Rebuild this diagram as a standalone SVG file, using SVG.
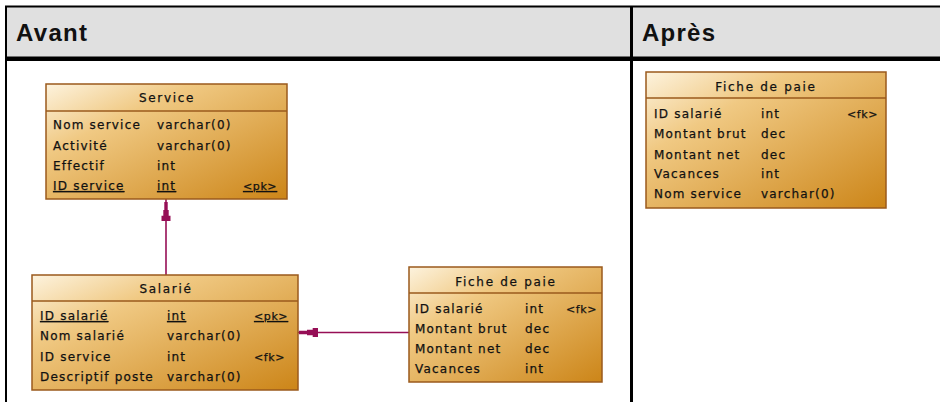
<svg xmlns="http://www.w3.org/2000/svg" width="940" height="402" viewBox="0 0 940 402">
<style>
.hdr{font-family:"Liberation Sans",Arial,sans-serif;font-weight:bold;font-size:24px;fill:#111}
.tb{fill:url(#g);stroke:#9a5a1c;stroke-width:1.5}
.sep{stroke:#9a5a1c;stroke-width:1.5}
.t{font-family:"DejaVu Sans",Verdana,sans-serif;font-size:12px;letter-spacing:1.2px;fill:#111;stroke:#111;stroke-width:0.25px}
.ti{font-family:"DejaVu Sans",Verdana,sans-serif;font-size:12px;letter-spacing:1.7px;fill:#111;stroke:#111;stroke-width:0.25px;text-anchor:middle}
.k{font-size:11px;letter-spacing:0.6px}
.u{text-decoration:underline}
.c{stroke:#960f56;stroke-width:1.6;fill:none}
.a{fill:#960f56}
</style>
<defs>
<linearGradient id="g" x1="0" y1="0" x2="1" y2="1">
<stop offset="0" stop-color="#fdf3de"/>
<stop offset="0.3" stop-color="#f0c983"/>
<stop offset="1" stop-color="#cc8518"/>
</linearGradient>
<polygon id="arr" points="-1.7,0 1.7,0 1.7,8 2.7,8 2.7,13.7 4.5,13.7 4.5,19 -4.5,19 -4.5,13.7 -2.7,13.7 -2.7,8 -1.7,8"/>
</defs>
<rect width="940" height="402" fill="#fff"/>
<g id="frame">
<rect x="6" y="7" width="934" height="50" fill="#e0e0e0"/>
<line x1="5" y1="6.5" x2="940" y2="6.5" stroke="#000" stroke-width="2"/>
<line x1="6" y1="6" x2="6" y2="402" stroke="#000" stroke-width="2"/>
<line x1="631.5" y1="6" x2="631.5" y2="402" stroke="#000" stroke-width="3"/>
<rect x="5" y="56.5" width="935" height="4.5" fill="#000"/>
<text class="hdr" x="16" y="41" textLength="71" lengthAdjust="spacing">Avant</text>
<text class="hdr" x="642" y="41" textLength="73" lengthAdjust="spacing">Après</text>
</g>
<g id="connectors">
<line class="c" x1="166" y1="199" x2="166" y2="275"/>
<use href="#arr" class="a" transform="translate(166,202)"/>
<line class="c" x1="298" y1="332.5" x2="409" y2="332.5"/>
<use href="#arr" class="a" transform="translate(299,332.5) rotate(-90)"/>
</g>
<g id="service">
<rect class="tb" x="46" y="84" width="241" height="115"/>
<line class="sep" x1="46" y1="111" x2="287" y2="111"/>
<text class="ti" x="167" y="102">Service</text>
<text class="t" x="53" y="129">Nom service</text><text class="t" x="157" y="129">varchar(0)</text>
<text class="t" x="53" y="150">Activité</text><text class="t" x="157" y="150">varchar(0)</text>
<text class="t" x="53" y="170">Effectif</text><text class="t" x="157" y="170">int</text>
<text class="t u" x="53" y="190">ID service</text><text class="t u" x="157" y="190">int</text><text class="t k u" x="243" y="190">&lt;pk&gt;</text>
</g>
<g id="salarie">
<rect class="tb" x="32" y="275" width="266" height="115"/>
<line class="sep" x1="32" y1="301" x2="298" y2="301"/>
<text class="ti" x="166" y="293">Salarié</text>
<text class="t u" x="40" y="320">ID salarié</text><text class="t u" x="167" y="320">int</text><text class="t k u" x="254" y="320">&lt;pk&gt;</text>
<text class="t" x="40" y="340">Nom salarié</text><text class="t" x="167" y="340">varchar(0)</text>
<text class="t" x="40" y="361">ID service</text><text class="t" x="167" y="361">int</text><text class="t k" x="254" y="361">&lt;fk&gt;</text>
<text class="t" x="40" y="381">Descriptif poste</text><text class="t" x="167" y="381">varchar(0)</text>
</g>
<g id="fiche-avant">
<rect class="tb" x="409" y="267" width="193" height="115"/>
<line class="sep" x1="409" y1="293" x2="602" y2="293"/>
<text class="ti" x="506" y="286">Fiche de paie</text>
<text class="t" x="415" y="313">ID salarié</text><text class="t" x="525" y="313">int</text><text class="t k" x="566" y="313">&lt;fk&gt;</text>
<text class="t" x="415" y="333">Montant brut</text><text class="t" x="525" y="333">dec</text>
<text class="t" x="415" y="353">Montant net</text><text class="t" x="525" y="353">dec</text>
<text class="t" x="415" y="373">Vacances</text><text class="t" x="525" y="373">int</text>
</g>
<g id="fiche-apres">
<rect class="tb" x="646" y="72" width="240" height="136"/>
<line class="sep" x1="646" y1="98" x2="886" y2="98"/>
<text class="ti" x="766" y="91">Fiche de paie</text>
<text class="t" x="654" y="118">ID salarié</text><text class="t" x="761" y="118">int</text><text class="t k" x="847" y="118">&lt;fk&gt;</text>
<text class="t" x="654" y="138">Montant brut</text><text class="t" x="761" y="138">dec</text>
<text class="t" x="654" y="159">Montant net</text><text class="t" x="761" y="159">dec</text>
<text class="t" x="654" y="178">Vacances</text><text class="t" x="761" y="178">int</text>
<text class="t" x="654" y="198">Nom service</text><text class="t" x="761" y="198">varchar(0)</text>
</g>
</svg>
